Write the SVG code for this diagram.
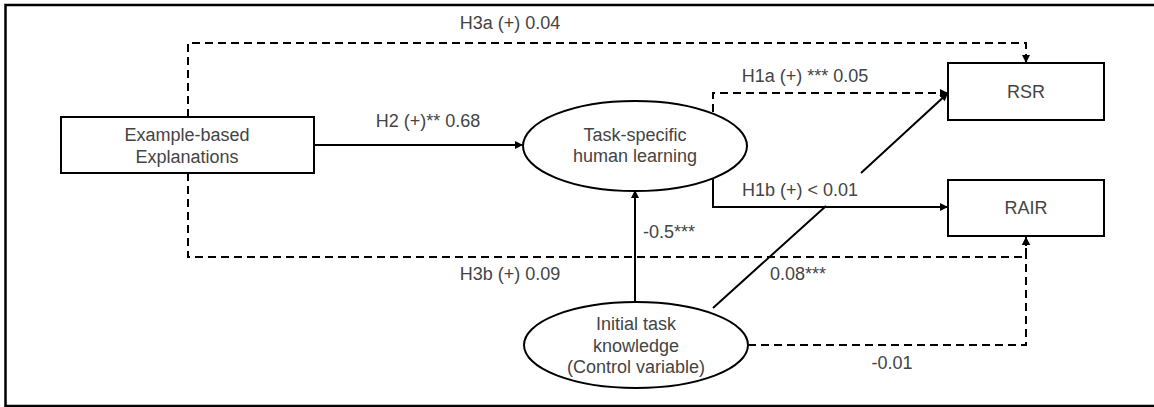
<svg xmlns="http://www.w3.org/2000/svg" width="1154" height="407" viewBox="0 0 1154 407">
<style>
.node{fill:#fff;stroke:#000;stroke-width:2}
.lbl{font-family:"Liberation Sans",Arial,sans-serif;font-size:18px;fill:#444;text-anchor:middle}
.solid{fill:none;stroke:#000;stroke-width:2}
.dash{fill:none;stroke:#000;stroke-width:2;stroke-dasharray:8 5}
</style>
<defs>
<marker id="ah" viewBox="0 0 10 10" refX="10" refY="5" markerWidth="9" markerHeight="8" markerUnits="userSpaceOnUse" orient="auto">
<path d="M0,0 L10,5 L0,10 z" fill="#000"/>
</marker>
</defs>
<rect width="1154" height="407" fill="#fff"/>
<path d="M1154,5 H5.5 V406 H1154" fill="none" stroke="#000" stroke-width="2.5"/>
<g id="connectors">
<path class="dash" d="M188,117 V43 H1026 V63" marker-end="url(#ah)"/>
<path class="dash" d="M188,173 V257 H1026 V237" marker-end="url(#ah)"/>
<path class="dash" d="M748,345 H1026 V237" marker-end="url(#ah)"/>
<path class="solid" d="M314,145 H523" marker-end="url(#ah)"/>
<path class="dash" d="M713,112 V93 H948" marker-end="url(#ah)"/>
<path class="solid" d="M713,176 V207 H948" marker-end="url(#ah)"/>
<path class="solid" d="M635,302 V190" marker-end="url(#ah)"/>
<path class="solid" d="M713,308 L826,206 M861,173 L948,93" marker-end="url(#ah)"/>
<text class="lbl" x="510" y="29">H3a (+) 0.04</text>
<text class="lbl" x="428" y="127">H2 (+)** 0.68</text>
<text class="lbl" x="805" y="82">H1a (+) *** 0.05</text>
<text class="lbl" x="800" y="196">H1b (+) &lt; 0.01</text>
<text class="lbl" x="669" y="238">-0.5***</text>
<text class="lbl" x="510" y="280">H3b (+) 0.09</text>
<text class="lbl" x="798" y="280">0.08***</text>
<text class="lbl" x="892" y="369">-0.01</text>
</g>
<g id="example">
<rect class="node" x="61" y="117" width="253" height="56"/>
<text class="lbl" x="187" y="141">Example-based</text>
<text class="lbl" x="187" y="163">Explanations</text>
</g>
<g id="learning">
<ellipse class="node" cx="635" cy="146" rx="112" ry="45"/>
<text class="lbl" x="635" y="141">Task-specific</text>
<text class="lbl" x="635" y="162">human learning</text>
</g>
<g id="initial">
<ellipse class="node" cx="636" cy="345" rx="112" ry="43"/>
<text class="lbl" x="636" y="330">Initial task</text>
<text class="lbl" x="636" y="352">knowledge</text>
<text class="lbl" x="636" y="373">(Control variable)</text>
</g>
<g id="rsr">
<rect class="node" x="948" y="63" width="156" height="57"/>
<text class="lbl" x="1026" y="98">RSR</text>
</g>
<g id="rair">
<rect class="node" x="948" y="180" width="156" height="56"/>
<text class="lbl" x="1026" y="214">RAIR</text>
</g>
</svg>
